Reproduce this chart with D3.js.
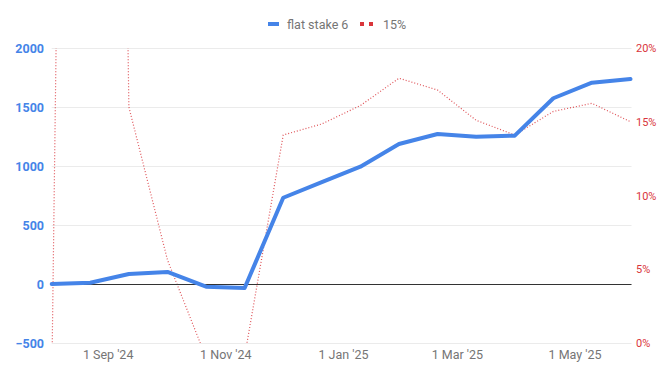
<!DOCTYPE html>
<html>
<head>
<meta charset="utf-8">
<script src="https://cdn.jsdelivr.net/npm/d3@7"></script>
<style>
  html, body { margin: 0; padding: 0; background: #fff; }
  svg { display: block; font-family: Roboto, "Noto Sans", sans-serif; }
</style>
</head>
<body>
<svg id="chart" width="671" height="377"></svg>
<script>
// ---- data ----
const dates = ["2024-08-03","2024-08-23","2024-09-12","2024-10-02","2024-10-22","2024-11-11",
               "2024-12-01","2024-12-21","2025-01-10","2025-01-30","2025-02-19","2025-03-11",
               "2025-03-31","2025-04-20","2025-05-10","2025-05-30"];
const flatStake = [0, 11, 85, 102, -23, -34, 731, 864, 994, 1186, 1271, 1248, 1257, 1574, 1706, 1737];
const roi = [-0.03, 2.0, 0.160, 0.0563, -0.010, -0.009, 0.141, 0.1485, 0.161, 0.1795, 0.1715, 0.151, 0.141, 0.157, 0.1625, 0.150];
const leftTicks = [-500, 0, 500, 1000, 1500, 2000];
const rightTicks = [0, 0.05, 0.10, 0.15, 0.20];
const xTickDates = ["2024-09-01","2024-11-01","2025-01-01","2025-03-01","2025-05-01"];
const seriesNames = ["flat stake 6", "15%"];

// ---- layout ----
const plot = {left: 51.7, right: 630.5, top: 48, bottom: 343};
const blue = "#4584e8", red = "#d9353b";
const parse = d3.timeParse("%Y-%m-%d");
const dateVals = dates.map(parse);

const svg = d3.select("#chart");

const x = d3.scaleTime().domain([dateVals[0], dateVals[dateVals.length-1]]).range([plot.left, plot.right]);
const yL = d3.scaleLinear().domain([-500, 2000]).range([plot.bottom, plot.top]);
const yR = d3.scaleLinear().domain([0, 0.2]).range([plot.bottom, plot.top]);

// gridlines
svg.append("g").selectAll("line").data(leftTicks).join("line")
  .attr("x1", plot.left).attr("x2", plot.right + 1)
  .attr("y1", d => Math.round(yL(d)) + 0.5).attr("y2", d => Math.round(yL(d)) + 0.5)
  .attr("stroke", "#ebebeb").attr("stroke-width", 1);

// left axis
const leftAxis = d3.axisLeft(yL).tickValues(leftTicks).tickSize(0).tickPadding(0).tickFormat(d3.format("d"));
const gl = svg.append("g").attr("transform", `translate(44,0)`).call(leftAxis);
gl.select(".domain").remove();
gl.selectAll("text").attr("fill", blue).attr("font-size", 12.5).attr("font-weight", "bold")
  .attr("font-family", "Roboto, sans-serif");

// right axis
const rightAxis = d3.axisRight(yR).tickValues(rightTicks).tickSize(0).tickPadding(0).tickFormat(d3.format(".0%"));
const gr = svg.append("g").attr("transform", `translate(636,0)`).call(rightAxis);
gr.select(".domain").remove();
gr.selectAll("text").attr("fill", red).attr("font-size", 11).attr("font-family", "Roboto, sans-serif");

// bottom axis
const fmt = d3.timeFormat("%-d %b '%y");
const bottomAxis = d3.axisBottom(x).tickValues(xTickDates.map(parse)).tickSize(0).tickPadding(0).tickFormat(fmt);
const gb = svg.append("g").attr("transform", `translate(0,350)`).call(bottomAxis);
gb.select(".domain").remove();
gb.selectAll("text").attr("fill", "#757575").attr("font-size", 12.5).attr("font-family", "Roboto, sans-serif");

// clip
svg.append("clipPath").attr("id", "clip").append("rect")
  .attr("x", plot.left - 2).attr("y", plot.top).attr("width", plot.right - plot.left + 4).attr("height", plot.bottom - plot.top);

// red dotted line
const lineR = d3.line().x((d, i) => x(dateVals[i])).y(d => yR(d));
svg.append("path").datum(roi).attr("clip-path", "url(#clip)")
  .attr("d", lineR).attr("fill", "none").attr("stroke", red).attr("stroke-width", 1.2)
  .attr("stroke-dasharray", "1,2").attr("stroke-opacity", 0.85);

// baseline at zero
svg.append("line").attr("x1", plot.left).attr("x2", plot.right + 1)
  .attr("y1", Math.round(yL(0)) + 0.5).attr("y2", Math.round(yL(0)) + 0.5)
  .attr("stroke", "#333").attr("stroke-width", 1);

// blue line
const lineL = d3.line().x((d, i) => x(dateVals[i])).y(d => yL(d));
svg.append("path").datum(flatStake)
  .attr("d", lineL).attr("fill", "none").attr("stroke", blue).attr("stroke-width", 4)
  .attr("stroke-linejoin", "round").attr("stroke-linecap", "round");

// legend
const lg = svg.append("g").attr("font-family", "Roboto, sans-serif").attr("font-size", 12.5).attr("fill", "#757575");
lg.append("rect").attr("x", 268).attr("y", 22).attr("width", 11).attr("height", 4).attr("fill", blue);
lg.append("text").attr("x", 287).attr("y", 28.5).text(seriesNames[0]);
lg.append("rect").attr("x", 360).attr("y", 22).attr("width", 4).attr("height", 4).attr("fill", red);
lg.append("rect").attr("x", 369).attr("y", 22).attr("width", 4).attr("height", 4).attr("fill", red);
lg.append("text").attr("x", 383).attr("y", 28.5).text(seriesNames[1]);
</script>
</body>
</html>
